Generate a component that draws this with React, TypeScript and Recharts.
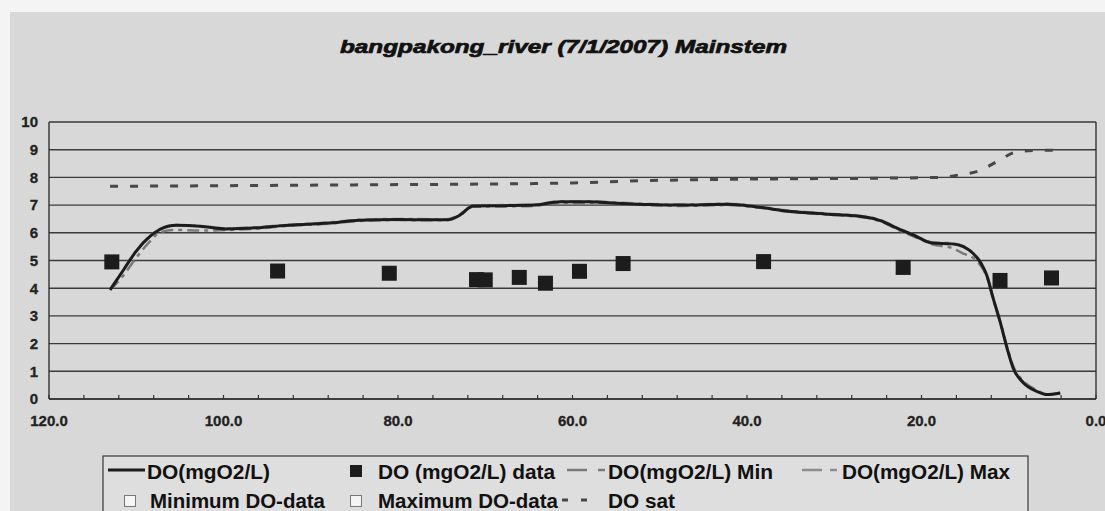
import React from "react";
import { ComposedChart, Line, Scatter, XAxis, YAxis, CartesianGrid, ReferenceLine } from "recharts";

const title = "bangpakong_river (7/1/2007) Mainstem";

// Simulated DO (mg O2/L) along the river (km)
const doKm = [113.0, 111.5, 110.0, 108.4, 107.3, 105.4, 102.7, 99.6, 96.2, 93.5, 88.0, 84.4, 80.0, 76.0, 74.4, 73.0, 71.4, 68.0, 64.5, 61.4, 58.0, 55.4, 51.2, 47.7, 42.3, 38.5, 35.8, 31.0, 26.3, 24.8, 22.5, 21.0, 18.7, 16.5, 15.2, 14.1, 13.3, 12.5, 11.8, 11.0, 10.2, 9.5, 8.3, 6.8, 5.6, 4.1];
const doVal = [3.94, 4.64, 5.34, 5.88, 6.12, 6.27, 6.24, 6.14, 6.18, 6.25, 6.35, 6.45, 6.48, 6.47, 6.47, 6.62, 6.97, 6.98, 7.0, 7.12, 7.12, 7.08, 7.02, 7.0, 7.03, 6.92, 6.8, 6.68, 6.56, 6.45, 6.12, 5.93, 5.63, 5.6, 5.5, 5.26, 4.96, 4.45, 3.65, 2.8, 1.84, 1.12, 0.58, 0.28, 0.16, 0.22];

const minKm = [113.0, 111.5, 110.0, 108.4, 107.3, 105.4, 102.7, 99.6, 96.2, 93.5, 88.0, 84.4, 80.0, 76.0, 74.4, 73.0, 71.4, 68.0, 64.5, 61.4, 58.0, 55.4, 51.2, 47.7, 42.3, 38.5, 35.8, 31.0, 26.3, 24.8, 22.5, 21.0, 18.7, 16.5, 15.2, 14.1, 13.3, 12.5, 11.8, 11.0, 10.2, 9.5, 8.3, 6.8, 5.6, 4.1];
const minVal = [3.94, 4.45, 5.1, 5.7, 6.02, 6.1, 6.08, 6.1, 6.15, 6.23, 6.33, 6.43, 6.46, 6.45, 6.45, 6.6, 6.94, 6.95, 6.97, 7.08, 7.08, 7.05, 7.0, 6.97, 7.0, 6.9, 6.78, 6.66, 6.54, 6.42, 6.08, 5.88, 5.58, 5.45, 5.25, 5.1, 4.85, 4.4, 3.62, 2.8, 1.9, 1.2, 0.65, 0.32, 0.17, 0.22];

const maxKm = [113.0, 111.5, 110.0, 108.4, 107.3, 105.4, 102.7, 99.6, 96.2, 93.5, 88.0, 84.4, 80.0, 76.0, 74.4, 73.0, 71.4, 68.0, 64.5, 61.4, 58.0, 55.4, 51.2, 47.7, 42.3, 38.5, 35.8, 31.0, 26.3, 24.8, 22.5, 21.0, 18.7, 16.5, 15.2, 14.1, 13.3, 12.5, 11.8, 11.0, 10.2, 9.5, 8.3, 6.8, 5.6, 4.1];
const maxVal = [3.95, 4.66, 5.36, 5.9, 6.14, 6.28, 6.25, 6.16, 6.2, 6.27, 6.37, 6.47, 6.5, 6.49, 6.49, 6.64, 6.99, 7.0, 7.02, 7.14, 7.14, 7.1, 7.04, 7.02, 7.05, 6.94, 6.82, 6.7, 6.58, 6.47, 6.14, 5.95, 5.65, 5.62, 5.52, 5.28, 4.98, 4.47, 3.67, 2.82, 1.86, 1.14, 0.6, 0.3, 0.17, 0.23];

// DO saturation
const satKm = [113, 100, 90, 80, 70, 60, 52, 45, 35, 25, 18, 15.5, 13.3, 11.2, 9.1, 7.0, 4.5];
const satVal = [7.68, 7.7, 7.72, 7.74, 7.76, 7.8, 7.88, 7.92, 7.95, 7.97, 8.0, 8.1, 8.25, 8.6, 8.92, 8.97, 8.98];

// Observed DO data
const obsKm = [112.8, 93.8, 81.0, 71.0, 70.0, 66.1, 63.1, 59.2, 54.2, 38.1, 22.1, 11.0, 5.1];
const obsVal = [4.95, 4.62, 4.54, 4.31, 4.3, 4.39, 4.18, 4.61, 4.89, 4.96, 4.75, 4.28, 4.37];

const xTicks = [0, 4, 8, 12, 16, 20, 24, 28, 32, 36, 40, 44, 48, 52, 56, 60, 64, 68, 72, 76, 80, 84, 88, 92, 96, 100, 104, 108, 112, 116, 120];
const yTicks = [0, 1, 2, 3, 4, 5, 6, 7, 8, 9, 10];

const legendRow1 = ["DO(mgO2/L)", "DO (mgO2/L) data", "DO(mgO2/L) Min", "DO(mgO2/L) Max"];
const legendRow2 = ["Minimum DO-data", "Maximum DO-data", "DO sat"];

const zip = (k: number[], v: number[]) => k.map((km, i) => ({ km, v: v[i] }));
const doData = zip(doKm, doVal);
const minData = zip(minKm, minVal);
const maxData = zip(maxKm, maxVal);
const satData = zip(satKm, satVal);
const obsData = zip(obsKm, obsVal);

const FONT = "'Liberation Sans', Arial, sans-serif";
const DARK = "#1c1c1c";

const XTick = (props: any) => {
  const { x, y, payload } = props;
  const v = payload.value as number;
  return (
    <g>
      <line x1={x} x2={x} y1={y - 4} y2={y} stroke="#333" strokeWidth={1.2} />
      {v % 20 === 0 && (
        <text x={x} y={y + 27} textAnchor="middle" fontFamily={FONT} fontWeight="bold" fontSize={15} fill="#222" stroke="#222" strokeWidth={0.3}>
          {v.toFixed(1)}
        </text>
      )}
    </g>
  );
};

const SquareShape = (props: any) => {
  const { cx, cy } = props;
  return <rect x={cx - 7.5} y={cy - 7.5} width={15} height={15} fill={DARK} />;
};

export default function App() {
  return (
    <div style={{ position: "absolute", left: 0, top: 0, width: 1105, height: 511, background: "#f4f4f4", overflow: "hidden" }}>
      <div style={{ position: "absolute", left: 10, top: 12, width: 1095, height: 499, background: "#d8d8d8" }} />
      <div style={{ position: "absolute", left: 0, top: 0 }}>
        <ComposedChart width={1105} height={511} margin={{ top: 122, right: 9, bottom: 82, left: 0 }}>
          <CartesianGrid horizontal={true} vertical={false} stroke="#3a3a3a" strokeWidth={1.4} />
          <XAxis
            type="number"
            dataKey="km"
            domain={[0, 120]}
            reversed
            ticks={xTicks}
            interval={0}
            height={30}
            tickSize={0}
            tickLine={false}
            tickMargin={0}
            axisLine={{ stroke: "#333", strokeWidth: 1.4 }}
            tick={<XTick />}
            allowDataOverflow
          />
          <YAxis
            type="number"
            dataKey="v"
            domain={[0, 10]}
            ticks={yTicks}
            interval={0}
            width={49}
            tickSize={0}
            tickLine={false}
            tickMargin={11}
            axisLine={{ stroke: "#333", strokeWidth: 1.4 }}
            tick={{ fontFamily: FONT, fontWeight: "bold", fontSize: 15, fill: "#222", stroke: "#222", strokeWidth: 0.3 }}
          />
          <ReferenceLine x={0} stroke="#333" strokeWidth={1.4} />
          <Line data={minData} dataKey="v" type="monotone" stroke="#7a7a7a" strokeWidth={2.5} strokeDasharray="12 5 4 5" dot={false} activeDot={false} isAnimationActive={false} />
          <Line data={maxData} dataKey="v" type="monotone" stroke="#8c8c8c" strokeWidth={2.5} strokeDasharray="12 5 4 5" dot={false} activeDot={false} isAnimationActive={false} />
          <Line data={satData} dataKey="v" type="monotone" stroke="#474747" strokeWidth={3} strokeDasharray="8 12" dot={false} activeDot={false} isAnimationActive={false} />
          <Line data={doData} dataKey="v" type="monotone" stroke={DARK} strokeWidth={3} dot={false} activeDot={false} isAnimationActive={false} />
          <Scatter data={obsData} dataKey="v" shape={<SquareShape />} isAnimationActive={false} />
        </ComposedChart>
      </div>
      <svg width={1105} height={511} style={{ position: "absolute", left: 0, top: 0, pointerEvents: "none" }}>
        <text x={340} y={53} fontFamily={FONT} fontWeight="bold" fontStyle="italic" fontSize={19} fill="#111" stroke="#111" strokeWidth={0.7} textLength={447} lengthAdjust="spacingAndGlyphs">
          {title}
        </text>
        <rect x={103} y={456} width={925} height={70} fill="#dedede" stroke="#444" strokeWidth={1.3} />
        {/* row 1 */}
        <line x1={108} x2={145} y1={470} y2={470} stroke={DARK} strokeWidth={3} />
        <text x={147} y={479} fontFamily={FONT} fontWeight="bold" fontSize={20} fill="#111" textLength={123} lengthAdjust="spacingAndGlyphs">{legendRow1[0]}</text>
        <rect x={350} y={465} width={12} height={12} fill={DARK} />
        <text x={378} y={479} fontFamily={FONT} fontWeight="bold" fontSize={20} fill="#111" textLength={177} lengthAdjust="spacingAndGlyphs">{legendRow1[1]}</text>
        <line x1={567} x2={587} y1={470} y2={470} stroke="#7a7a7a" strokeWidth={2.5} />
        <line x1={598} x2={605} y1={470} y2={470} stroke="#7a7a7a" strokeWidth={2.5} />
        <text x={608} y={479} fontFamily={FONT} fontWeight="bold" fontSize={20} fill="#111" textLength={165} lengthAdjust="spacingAndGlyphs">{legendRow1[2]}</text>
        <line x1={802} x2={822} y1={470} y2={470} stroke="#8c8c8c" strokeWidth={2.5} />
        <line x1={830} x2={837} y1={470} y2={470} stroke="#8c8c8c" strokeWidth={2.5} />
        <text x={842} y={479} fontFamily={FONT} fontWeight="bold" fontSize={20} fill="#111" textLength={168} lengthAdjust="spacingAndGlyphs">{legendRow1[3]}</text>
        {/* row 2 */}
        <rect x={124.5} y={495.5} width={11} height={11} fill="#f4f4f4" stroke="#777" strokeWidth={1} />
        <text x={150} y={508} fontFamily={FONT} fontWeight="bold" fontSize={20} fill="#111" textLength={175} lengthAdjust="spacingAndGlyphs">{legendRow2[0]}</text>
        <rect x={350.5} y={495.5} width={11} height={11} fill="#f4f4f4" stroke="#777" strokeWidth={1} />
        <text x={378} y={508} fontFamily={FONT} fontWeight="bold" fontSize={20} fill="#111" textLength={180} lengthAdjust="spacingAndGlyphs">{legendRow2[1]}</text>
        <line x1={562} x2={568} y1={500} y2={500} stroke="#474747" strokeWidth={3} />
        <line x1={581} x2={587} y1={500} y2={500} stroke="#474747" strokeWidth={3} />
        <text x={608} y={508} fontFamily={FONT} fontWeight="bold" fontSize={20} fill="#111" textLength={67} lengthAdjust="spacingAndGlyphs">{legendRow2[2]}</text>
      </svg>
    </div>
  );
}
